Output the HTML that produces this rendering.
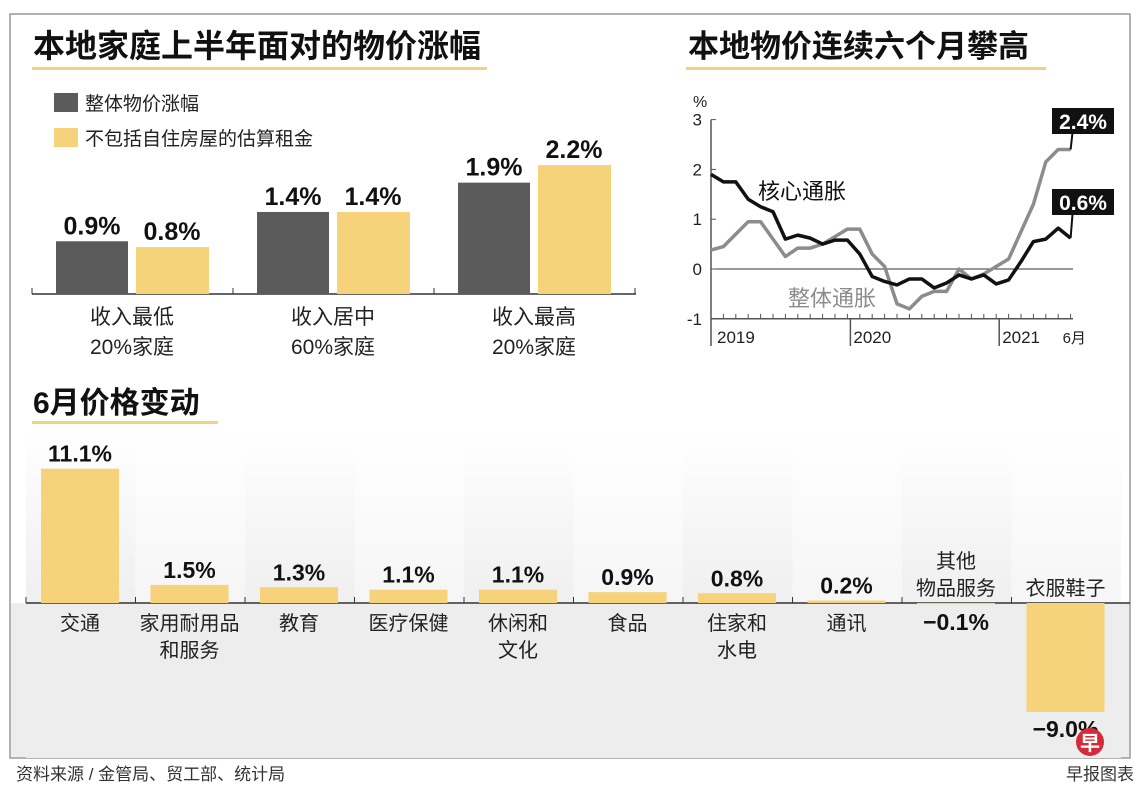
<!DOCTYPE html>
<html><head><meta charset="utf-8">
<style>
body{margin:0;width:1140px;height:794px;background:#fff;font-family:"Liberation Sans","Noto Sans CJK SC",sans-serif;overflow:hidden;position:relative}
svg{position:absolute;left:0;top:0}
</style></head>
<body>
<svg width="1140" height="794" id="chart">
<defs>
<linearGradient id="colg" x1="0" y1="0" x2="0" y2="1">
<stop offset="0" stop-color="#fff"/><stop offset="0.5" stop-color="#f0f0f0"/><stop offset="1" stop-color="#ececec"/>
</linearGradient>
<linearGradient id="colg2" x1="0" y1="0" x2="0" y2="1">
<stop offset="0" stop-color="#fff"/><stop offset="0.5" stop-color="#f6f6f6"/><stop offset="1" stop-color="#ececec"/>
</linearGradient>
</defs>
<rect x="10" y="14" width="1120" height="744" fill="none" stroke="#999" stroke-width="1.5"/>
<g id="bg"></g>
<text x="33" y="57" font-size="32" font-weight="bold" fill="#111">本地家庭上半年面对的物价涨幅</text>
<rect x="32" y="67" width="455" height="3" fill="#f1d37f"/>
<text x="688" y="57" font-size="31" font-weight="bold" fill="#111">本地物价连续六个月攀高</text>
<rect x="686" y="67" width="360" height="3" fill="#f1d37f"/>
<rect x="54" y="93" width="24" height="19" fill="#5b5b5b"/>
<text x="85" y="110" font-size="19" fill="#222">整体物价涨幅</text>
<rect x="54" y="128" width="24" height="19" fill="#f6d27a"/>
<text x="85" y="145" font-size="19" fill="#222">不包括自住房屋的估算租金</text>
<g id="top"></g>
<g id="line"></g>
<text x="33" y="413" font-size="30" font-weight="bold" fill="#111">6月价格变动</text>
<rect x="32" y="421" width="186" height="3" fill="#f1d37f"/>
<g id="bot"></g>
<text x="16" y="780" font-size="17" fill="#333">资料来源 / 金管局、贸工部、统计局</text>
<text x="1134" y="780" font-size="17" fill="#333" text-anchor="end">早报图表</text>
<circle cx="1090" cy="742" r="14" fill="#d62a3a"/>
<text x="1090" y="750" font-size="20" fill="#fff" text-anchor="middle" font-weight="bold">早</text>
</svg>
<script>
const NS="http://www.w3.org/2000/svg";
function mk(p,t,a,txt){const e=document.createElementNS(NS,t);for(const k in a)e.setAttribute(k,a[k]);if(txt!==undefined)e.textContent=txt;document.getElementById(p).appendChild(e);return e;}

// top grouped bars
const groups=[["收入最低","20%家庭"],["收入居中","60%家庭"],["收入最高","20%家庭"]];
const overall=[0.9,1.4,1.9];
const excl=[0.8,1.4,2.2];
const tBase=294,tScale=58.6;
const ty=v=>tBase-v*tScale;
let ax=mk('top','line',{x1:32,y1:tBase,x2:636,y2:tBase,stroke:'#333','stroke-width':1.5});

for(let i=0;i<4;i++){let t=mk('top','line',{x1:32+i*201,y1:tBase-6,x2:32+i*201,y2:tBase,stroke:'#333'});
}
groups.forEach((g,i)=>{
 const x0=56+i*201;
 let b=mk('top','rect',{x:x0,y:ty(overall[i]),width:72,height:overall[i]*tScale,fill:'#5b5b5b'});
 
 let b2=mk('top','rect',{x:x0+80,y:ty(excl[i]),width:73,height:excl[i]*tScale,fill:'#f6d27a'});
 
 let l=mk('top','text',{x:x0+36,y:ty(overall[i])-7,'font-size':25,'font-weight':'bold','text-anchor':'middle',fill:'#111'},overall[i].toFixed(1)+'%');
 
 let l2=mk('top','text',{x:x0+116,y:ty(excl[i])-7,'font-size':25,'font-weight':'bold','text-anchor':'middle',fill:'#111'},excl[i].toFixed(1)+'%');
 
 let c1=mk('top','text',{x:x0+76,y:324,'font-size':21,'text-anchor':'middle',fill:'#222'},g[0]);
 
 let c2=mk('top','text',{x:x0+76,y:354,'font-size':21,'text-anchor':'middle',fill:'#222'},g[1]);
 
});

// line chart
const core=[1.9,1.75,1.75,1.4,1.25,1.15,0.6,0.68,0.62,0.5,0.58,0.58,0.3,-0.15,-0.25,-0.32,-0.2,-0.2,-0.38,-0.28,-0.12,-0.2,-0.12,-0.3,-0.22,0.15,0.55,0.6,0.82,0.62];
const headline=[0.38,0.45,0.7,0.95,0.95,0.6,0.25,0.42,0.42,0.5,0.65,0.8,0.8,0.3,0.05,-0.7,-0.8,-0.55,-0.45,-0.45,0,-0.2,-0.1,0.05,0.2,0.75,1.3,2.15,2.4,2.4];
const yTicks=[3,2,1,0,-1];
const years=[["2019",0],["2020",11],["2021",23]];
const lx=i=>711+i*12.4, ly=v=>269-v*49.8;
let ya=mk('line','line',{x1:711,y1:ly(3),x2:711,y2:346,stroke:'#555','stroke-width':1.5});

let xa=mk('line','line',{x1:711,y1:ly(-1),x2:1073,y2:ly(-1),stroke:'#555','stroke-width':1.5});

let zl=mk('line','line',{x1:711,y1:ly(0),x2:1073,y2:ly(0),stroke:'#333','stroke-width':1});

yTicks.forEach(v=>{
 let t=mk('line','line',{x1:711,y1:ly(v),x2:716,y2:ly(v),stroke:'#555'});
 
 let l=mk('line','text',{x:702,y:ly(v)+6,'font-size':17,'text-anchor':'end',fill:'#222'},String(v));
 
});
let pct=mk('line','text',{x:693,y:107,'font-size':16,fill:'#222'},'%');

for(let i=0;i<core.length;i++){let t=mk('line','line',{x1:lx(i),y1:ly(-1)-5,x2:lx(i),y2:ly(-1),stroke:'#555'});
}
years.forEach(([y,i])=>{
 if(i>0){let t=mk('line','line',{x1:lx(i)+3,y1:ly(-1),x2:lx(i)+3,y2:346,stroke:'#555','stroke-width':1.5});
 }
 let l=mk('line','text',{x:lx(i)+6,y:343,'font-size':17,fill:'#222'},y);
 
});
let jl=mk('line','text',{x:lx(29)-8,y:343,'font-size':15,fill:'#222'},'6月');

const pts=a=>a.map((v,i)=>lx(i)+','+ly(v)).join(' ');
let gh=mk('line','polyline',{points:pts(headline),fill:'none',stroke:'#8c8c8c','stroke-width':3.5,'stroke-linejoin':'round'});

let gc=mk('line','polyline',{points:pts(core),fill:'none',stroke:'#111','stroke-width':3.5,'stroke-linejoin':'round'});

let cl=mk('line','text',{x:758,y:199,'font-size':22,fill:'#111'},'核心通胀');

let hl=mk('line','text',{x:788,y:306,'font-size':22,fill:'#8c8c8c'},'整体通胀');

const lastH=headline[headline.length-1], lastC=core[core.length-1];
[[lastH,108,'headline-callout'],[lastC,189,'core-callout']].forEach(([v,by,n])=>{
 let c=mk('line','line',{x1:lx(29),y1:ly(v),x2:lx(29)+2,y2:by+24,stroke:'#111','stroke-width':2});
 
 let r=mk('line','rect',{x:1052,y:by,width:62,height:26,fill:'#111'});
 
 let t=mk('line','text',{x:1083,y:by+21,'font-size':21,'font-weight':'bold','text-anchor':'middle',fill:'#fff'},v.toFixed(1)+'%');
 
});

// bottom bars
const cats=[["交通"],["家用耐用品","和服务"],["教育"],["医疗保健"],["休闲和","文化"],["食品"],["住家和","水电"],["通讯"],["其他","物品服务"],["衣服鞋子"]];
const changes=[11.1,1.5,1.3,1.1,1.1,0.9,0.8,0.2,-0.1,-9.0];
const bBase=603,bScale=12.1,colW=109.5;
const by=v=>bBase-v*bScale;
cats.forEach((c,i)=>{
 let r=mk('bg','rect',{x:26+i*colW,y:430,width:colW,height:328,fill:i%2?'url(#colg2)':'url(#colg)'});
 
});
let bb=mk('bg','rect',{x:11,y:603,width:1118,height:154,fill:'#ededed'});

let bax=mk('bot','line',{x1:26,y1:bBase,x2:1130,y2:bBase,stroke:'#333','stroke-width':1.5});

cats.forEach((c,i)=>{
 const x0=41+i*colW,v=changes[i],cx=x0+39;
 let t=mk('bot','line',{x1:26+i*colW,y1:bBase-6,x2:26+i*colW,y2:bBase,stroke:'#333'});
 
 let r=mk('bot','rect',{x:x0,y:Math.min(by(v),bBase),width:78,height:Math.abs(v)*bScale,fill:'#f6d27a'});
 
 const lab=(v<0?'−':'')+Math.abs(v).toFixed(1)+'%';
 let vy;
 if(v>=0) vy=by(v)-7; else if(v>-1) vy=bBase+27; else vy=by(v)+25;
 let vt=mk('bot','text',{x:cx,y:vy,'font-size':23,'font-weight':'bold','text-anchor':'middle',fill:'#111'},lab);
 
 const above=v<0;
 c.forEach((s,k)=>{
  const yy=above? bBase-8-(c.length-1-k)*27 : bBase+27+k*27;
  let ct=mk('bot','text',{x:cx,y:yy,'font-size':20,'text-anchor':'middle',fill:'#222'},s);
  
 });
});
</script>
</body></html>
